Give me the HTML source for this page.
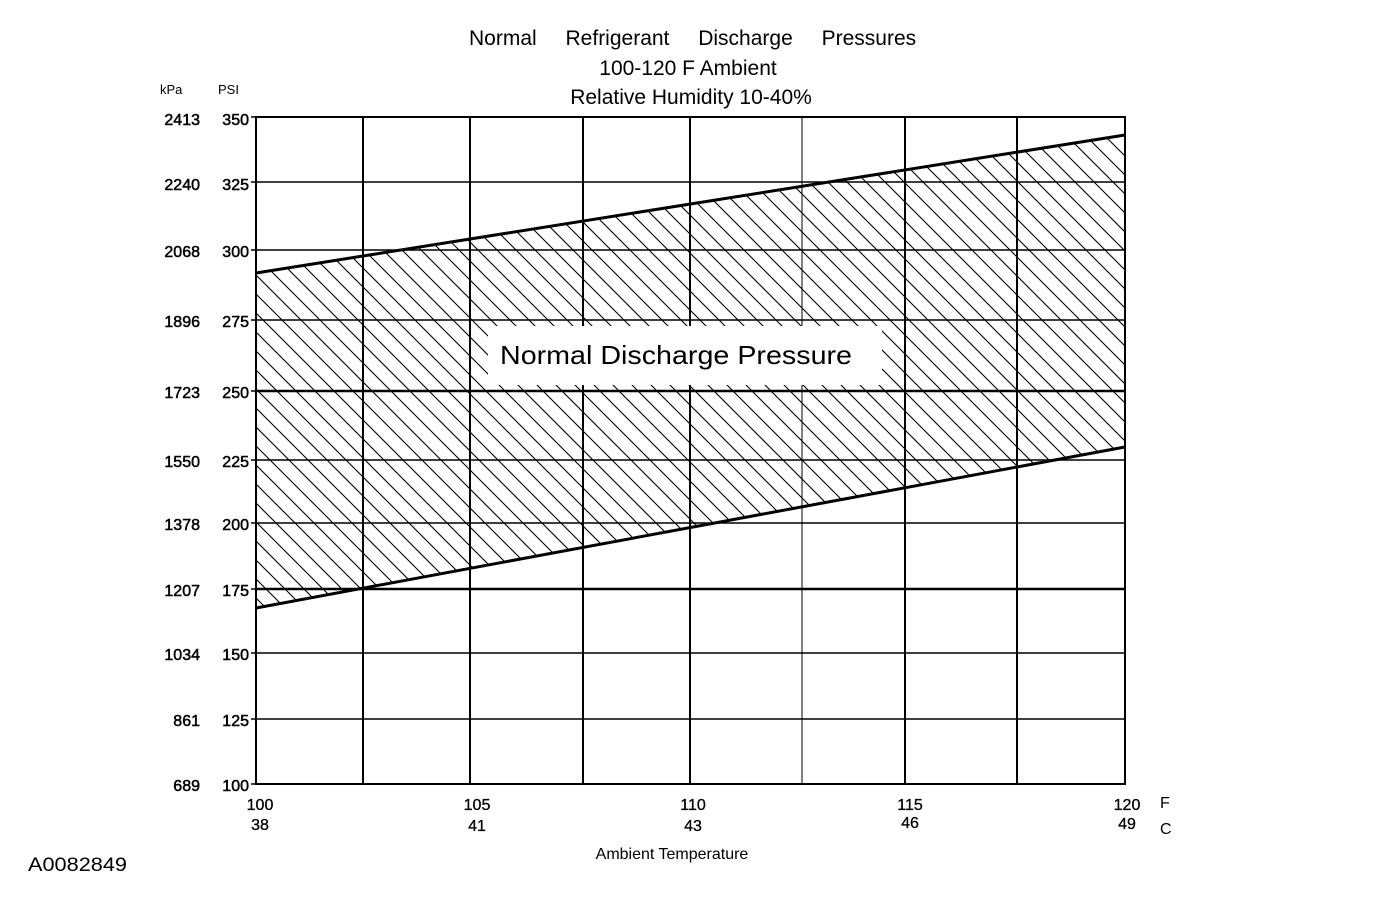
<!DOCTYPE html>
<html><head><style>
body{margin:0;background:#fff;}
svg text{font-family:"Liberation Sans",Arial,sans-serif;fill:#000;}
</style></head><body>
<svg width="1392" height="892" viewBox="0 0 1392 892" xmlns="http://www.w3.org/2000/svg">
<defs>
<pattern id="h" patternUnits="userSpaceOnUse" width="19" height="19">
<path d="M-2,-2 L21,21 M-12,7 L10,29 M7,-12 L29,10" stroke="#000" stroke-width="1.1"/>
</pattern>
</defs>
<text x="469" y="45" font-size="21" style="word-spacing:23px">Normal Refrigerant Discharge Pressures</text>
<text x="688" y="75" font-size="21" text-anchor="middle">100-120 F Ambient</text>
<text x="691" y="104" font-size="21" text-anchor="middle">Relative Humidity 10-40%</text>
<text x="160" y="94" font-size="13">kPa</text>
<text x="218" y="94" font-size="13">PSI</text>
<polygon points="256,273 1125,135 1125,447 256,608" fill="url(#h)"/>
<g stroke="#000" fill="none">
<g stroke-width="1.5">
<line x1="256" y1="182" x2="1125" y2="182"/>
<line x1="256" y1="250" x2="1125" y2="250"/>
<line x1="256" y1="320" x2="1125" y2="320"/>
<line x1="256" y1="460" x2="1125" y2="460"/>
<line x1="256" y1="523" x2="1125" y2="523"/>
<line x1="256" y1="653" x2="1125" y2="653"/>
<line x1="256" y1="719" x2="1125" y2="719"/>
</g>
<g stroke-width="2.5">
<line x1="256" y1="391" x2="1125" y2="391"/>
<line x1="256" y1="589" x2="1125" y2="589"/>
</g>
<g stroke-width="2">
<line x1="363" y1="117" x2="363" y2="784"/>
<line x1="470" y1="117" x2="470" y2="784"/>
<line x1="583" y1="117" x2="583" y2="784"/>
<line x1="690" y1="117" x2="690" y2="784"/>
<line x1="905" y1="117" x2="905" y2="784"/>
<line x1="1017" y1="117" x2="1017" y2="784"/>
</g>
<line x1="802" y1="117" x2="802" y2="784" stroke-width="1"/>
<rect x="256" y="117" width="869" height="667" stroke-width="2"/>
<g stroke-width="1.5">
<line x1="251" y1="117" x2="256" y2="117"/><line x1="251" y1="182" x2="256" y2="182"/>
<line x1="251" y1="250" x2="256" y2="250"/><line x1="251" y1="320" x2="256" y2="320"/>
<line x1="251" y1="391" x2="256" y2="391"/><line x1="251" y1="460" x2="256" y2="460"/>
<line x1="251" y1="523" x2="256" y2="523"/><line x1="251" y1="589" x2="256" y2="589"/>
<line x1="251" y1="653" x2="256" y2="653"/><line x1="251" y1="719" x2="256" y2="719"/>
<line x1="251" y1="784" x2="256" y2="784"/>
</g>
<line x1="256" y1="273" x2="1125" y2="135" stroke-width="3"/>
<line x1="256" y1="608" x2="1125" y2="447" stroke-width="3"/>
</g>
<rect x="488" y="326" width="394" height="59" fill="#fff"/>
<text x="500" y="364" font-size="26" textLength="352" lengthAdjust="spacingAndGlyphs">Normal Discharge Pressure</text>
<g font-size="16" text-anchor="end" stroke="#000" stroke-width="0.5">
<text x="200" y="125">2413</text><text x="249" y="125">350</text>
<text x="200" y="190">2240</text><text x="249" y="190">325</text>
<text x="200" y="257">2068</text><text x="249" y="257">300</text>
<text x="200" y="327">1896</text><text x="249" y="327">275</text>
<text x="200" y="398">1723</text><text x="249" y="398">250</text>
<text x="200" y="467">1550</text><text x="249" y="467">225</text>
<text x="200" y="530">1378</text><text x="249" y="530">200</text>
<text x="200" y="596">1207</text><text x="249" y="596">175</text>
<text x="200" y="660">1034</text><text x="249" y="660">150</text>
<text x="200" y="726">861</text><text x="249" y="726">125</text>
<text x="200" y="791">689</text><text x="249" y="791">100</text>
</g>
<g font-size="16" text-anchor="middle" stroke="#000" stroke-width="0.3">
<text x="260" y="810">100</text><text x="260" y="830">38</text>
<text x="477" y="810">105</text><text x="477" y="831">41</text>
<text x="693" y="810">110</text><text x="693" y="831">43</text>
<text x="910" y="810">115</text><text x="910" y="828">46</text>
<text x="1127" y="810">120</text><text x="1127" y="829">49</text>
</g>
<text x="1160" y="808" font-size="16">F</text>
<text x="1160" y="834" font-size="16">C</text>
<text x="672" y="859" font-size="16" text-anchor="middle">Ambient Temperature</text>
<text x="28" y="871" font-size="19" textLength="99" lengthAdjust="spacingAndGlyphs">A0082849</text>
</svg>
</body></html>
